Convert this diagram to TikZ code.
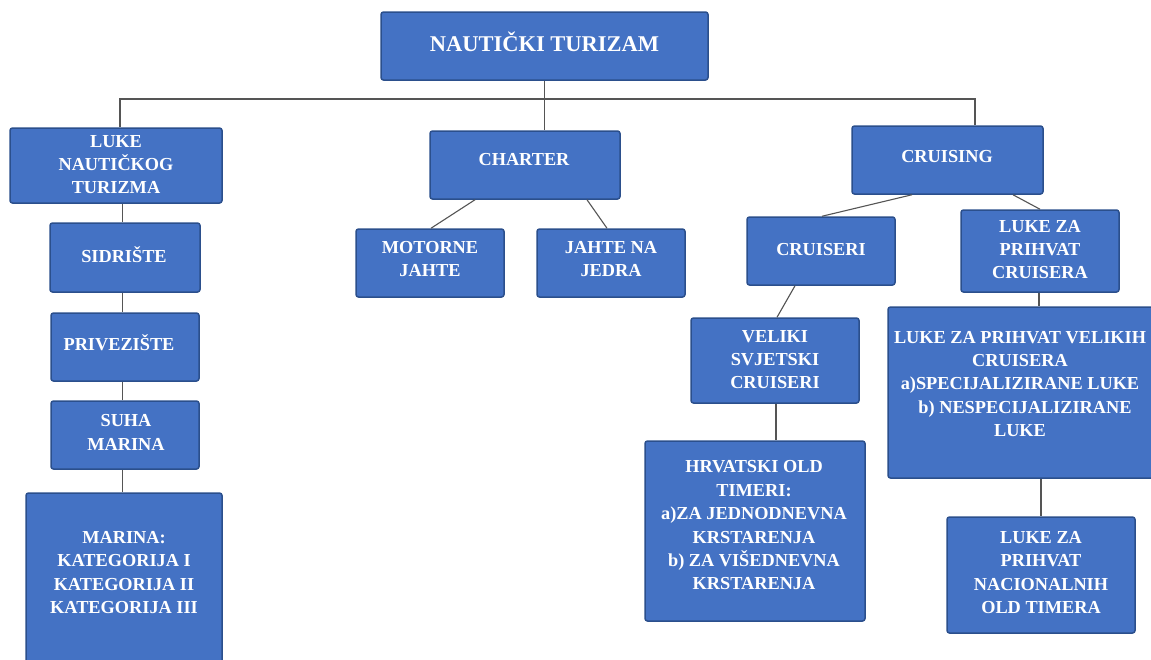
\documentclass[tikz,border=0pt]{standalone}
\usepackage{fontspec}
\setmainfont{Liberation Serif}
\usetikzlibrary{calc}
\definecolor{boxfill}{HTML}{4472C4}
\definecolor{boxline}{HTML}{2B4F8C}
\definecolor{conncol}{HTML}{555555}
\begin{document}
\begin{tikzpicture}[x=1pt,y=-1pt,
  box/.style={draw=boxline, fill=boxfill, line width=1.5pt, rounded corners=2.5pt, inner sep=0pt},
  txt/.style={text=white, font=\fontsize{18.3}{23.4}\selectfont\bfseries, align=center, inner sep=0pt},
  ttl/.style={text=white, font=\fontsize{22.5}{27}\selectfont\bfseries, align=center, inner sep=0pt},
  link/.style={draw=conncol, line width=1.1pt}]
\useasboundingbox[fill=white] (0,0) rectangle (1151,659);
\clip (0,0) rectangle (1151,659);

% boxes
\node[box, minimum width=327pt, minimum height=68pt] (root) at (544.5,46) {};
\node[box, minimum width=212pt, minimum height=75pt] (luke) at (116,165.5) {};
\node[box, minimum width=190pt, minimum height=68pt] (charter) at (525,165) {};
\node[box, minimum width=191pt, minimum height=68pt] (cruising) at (947.5,160) {};
\node[box, minimum width=150pt, minimum height=69pt] (sidriste) at (125,257.5) {};
\node[box, minimum width=148pt, minimum height=68pt] (priv) at (125,347) {};
\node[box, minimum width=148pt, minimum height=68pt] (suha) at (125,435) {};
\node[box, minimum width=196pt, minimum height=174pt] (marina) at (124,580) {};
\node[box, minimum width=148pt, minimum height=68pt] (motorne) at (430,263) {};
\node[box, minimum width=148pt, minimum height=68pt] (jahte) at (611,263) {};
\node[box, minimum width=148pt, minimum height=68pt] (cruiseri) at (821,251) {};
\node[box, minimum width=158pt, minimum height=82pt] (lcru) at (1040,251) {};
\node[box, minimum width=168pt, minimum height=85pt] (veliki) at (775,360.5) {};
\node[box, minimum width=272pt, minimum height=171pt] (lvel) at (1024,392.5) {};
\node[box, minimum width=220pt, minimum height=180pt] (hrv) at (755,531) {};
\node[box, minimum width=188pt, minimum height=116pt] (nac) at (1041,575) {};

% texts
\node[ttl] (roott) at (544.5,42) {NAUTIČKI TURIZAM};
\node[txt] (luket) at (116,164.5) {LUKE\\NAUTIČKOG\\TURIZMA};
\node[txt] (chartert) at (524,160) {CHARTER};
\node[txt] (cruisingt) at (947,157) {CRUISING};
\node[txt] (sidristet) at (124,255) {SIDRIŠTE};
\node[txt] (privt) at (119,343) {PRIVEZIŠTE};
\node[txt] (suhat) at (126,432.5) {SUHA\\MARINA};
\node[txt] (marinat) at (124,572.5) {MARINA:\\KATEGORIJA I\\KATEGORIJA II\\KATEGORIJA III};
\node[txt] (motornet) at (430,259) {MOTORNE\\JAHTE};
\node[txt] (jahtet) at (611,259) {JAHTE NA\\JEDRA};
\node[txt] (cruiserit) at (821,250) {CRUISERI};
\node[txt] (lcrut) at (1040,249.5) {LUKE ZA\\PRIHVAT\\CRUISERA};
\node[txt] (velikit) at (775,359.5) {VELIKI\\SVJETSKI\\CRUISERI};
\node[txt] (lvelt) at (1020,384) {LUKE ZA PRIHVAT VELIKIH\\CRUISERA\\a)SPECIJALIZIRANE LUKE\hspace*{22pt}\\\hspace*{10pt}b) NESPECIJALIZIRANE\\LUKE};
\node[txt] (hrvt) at (754,525.5) {HRVATSKI OLD\\TIMERI:\\a)ZA JEDNODNEVNA\\KRSTARENJA\\b) ZA VIŠEDNEVNA\\KRSTARENJA};
\node[txt] (nact) at (1041,572.5) {LUKE ZA\\PRIHVAT\\NACIONALNIH\\OLD TIMERA};

% connectors
\coordinate (busL) at (120,99);
\coordinate (busR) at (975,99);
\coordinate (lx) at (122.5,0);
\draw[link] (root.south) -- (root.south |- charter.north);
\draw[link] (luke.north -| busL) -- (busL) -- (busR) -- (busR |- cruising.north);
\draw[link] (luke.south -| lx) -- (sidriste.north -| lx);
\draw[link] (sidriste.south -| lx) -- (priv.north -| lx);
\draw[link] (priv.south -| lx) -- (suha.north -| lx);
\draw[link] (suha.south -| lx) -- (marina.north -| lx);
\draw[link] ([xshift=-50pt]charter.south) -- ([xshift=1pt]motorne.north);
\draw[link] ([xshift=62pt]charter.south) -- ([xshift=-4pt]jahte.north);
\draw[link] ([xshift=-35.5pt]cruising.south) -- ([xshift=1pt]cruiseri.north);
\draw[link] ([xshift=65.5pt]cruising.south) -- (lcru.north);
\draw[link] ([xshift=-26pt]cruiseri.south) -- ([xshift=2pt]veliki.north);
\draw[link] ([xshift=1pt]veliki.south) -- ([xshift=1pt]veliki.south |- hrv.north);
\draw[link] ([xshift=-1pt]lcru.south) -- ([xshift=-1pt]lcru.south |- lvel.north);
\draw[link] (nac.north |- lvel.south) -- (nac.north);
\end{tikzpicture}
\end{document}
